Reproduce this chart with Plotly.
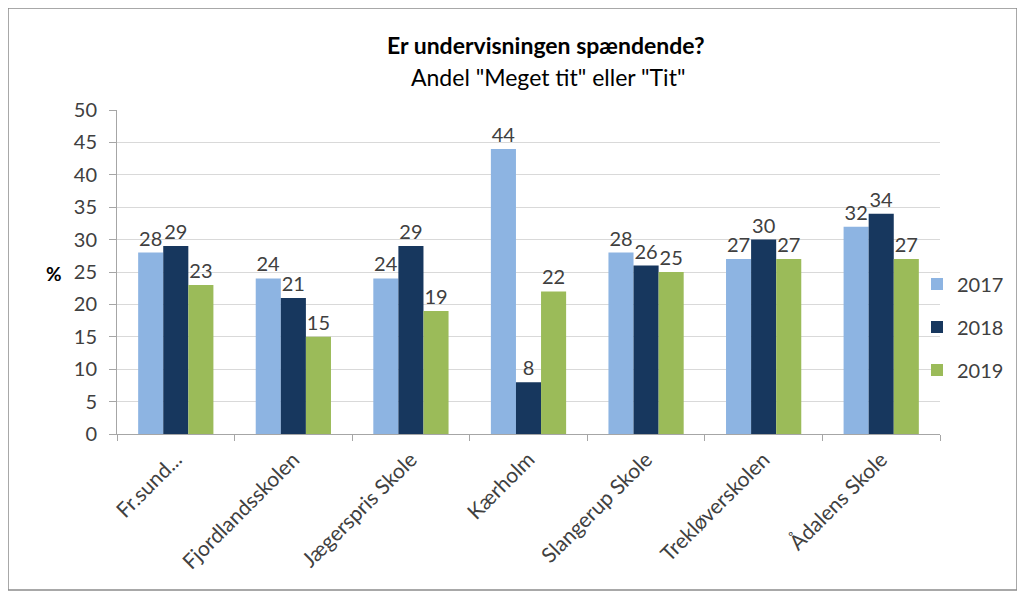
import plotly.graph_objects as go

categories = ["Fr.sund...", "Fjordlandsskolen", "Jægerspris Skole", "Kærholm",
              "Slangerup Skole", "Trekløverskolen", "Ådalens Skole"]
v2017 = [28, 24, 24, 44, 28, 27, 32]
v2018 = [29, 21, 29, 8, 26, 30, 34]
v2019 = [23, 15, 19, 22, 25, 27, 27]
years = ["2017", "2018", "2019"]
colors = ["#8db4e2", "#17375e", "#9bbb59"]
yticks = [0, 5, 10, 15, 20, 25, 30, 35, 40, 45, 50]

FONT = "Lato, Open Sans, sans-serif"
fig = go.Figure()
for name, vals, col in zip(years, [v2017, v2018, v2019], colors):
    fig.add_trace(go.Bar(
        x=categories, y=vals, name=name, marker_color=col,
        marker_line_width=0,
        text=[str(v) for v in vals], textposition="outside",
        textfont=dict(family=FONT, size=20, color="#404040"),
        cliponaxis=False, legendgroup=name,
    ))

OFF = 8  # page body offset
L, R, T, B = 117 - OFF, 1025 - (940 - OFF), 110 - OFF, 594 - (434 - OFF)
W, H = 1025, 594
pw, ph = W - L - R, H - T - B


def px(xs):
    return (xs - OFF - L) / pw


def py(ys):
    return (H - B - (ys - OFF)) / ph


fig.update_layout(
    width=W, height=H,
    margin=dict(l=L, r=R, t=T, b=B, autoexpand=False),
    paper_bgcolor="white", plot_bgcolor="white",
    barmode="group", bargap=0.36, bargroupgap=0,
    font=dict(family=FONT, color="#404040"),
    showlegend=True,
    legend=dict(x=px(917), y=py(327), xanchor="left", yanchor="middle",
                font=dict(family=FONT, size=20, color="#404040"),
                tracegroupgap=14, itemwidth=30, bgcolor="rgba(0,0,0,0)"),
    annotations=[
        dict(text="<b>Er undervisningen spændende?</b>", xref="paper", yref="paper",
             x=px(546), y=py(45), showarrow=False,
             font=dict(family=FONT, size=23, color="#000000"), yanchor="middle"),
        dict(text='Andel "Meget tit" eller "Tit"', xref="paper", yref="paper",
             x=px(548), y=py(77), showarrow=False,
             font=dict(family=FONT, size=23, color="#000000"), yanchor="middle"),
        dict(text="<b>%</b>", xref="paper", yref="paper",
             x=px(44), y=py(273), showarrow=False,
             font=dict(family=FONT, size=19, color="#000000"), yanchor="middle"),
    ],
    shapes=[dict(type="rect", xref="paper", yref="paper",
                 x0=px(8), x1=px(1017),
                 y0=py(590), y1=py(8),
                 line=dict(color="#8c8c8c", width=1.5), layer="below")],
)
fig.update_yaxes(range=[0, 50], tickvals=yticks, showgrid=True, gridcolor="#d9d9d9",
                 showline=True, linecolor="#a6a6a6", ticks="outside", ticklen=7,
                 tickcolor="#a6a6a6", tickfont=dict(family=FONT, size=20, color="#404040"),
                 ticklabelstandoff=8,
                 zeroline=False, automargin=False)
fig.update_xaxes(showline=True, linecolor="#a6a6a6", ticks="outside", ticklen=6,
                 tickcolor="#a6a6a6", tickson="boundaries", tickangle=-45,
                 ticklabelstandoff=4,
                 automargin=False,
                 tickfont=dict(family=FONT, size=21, color="#404040"))
fig.write_html("out.html")
